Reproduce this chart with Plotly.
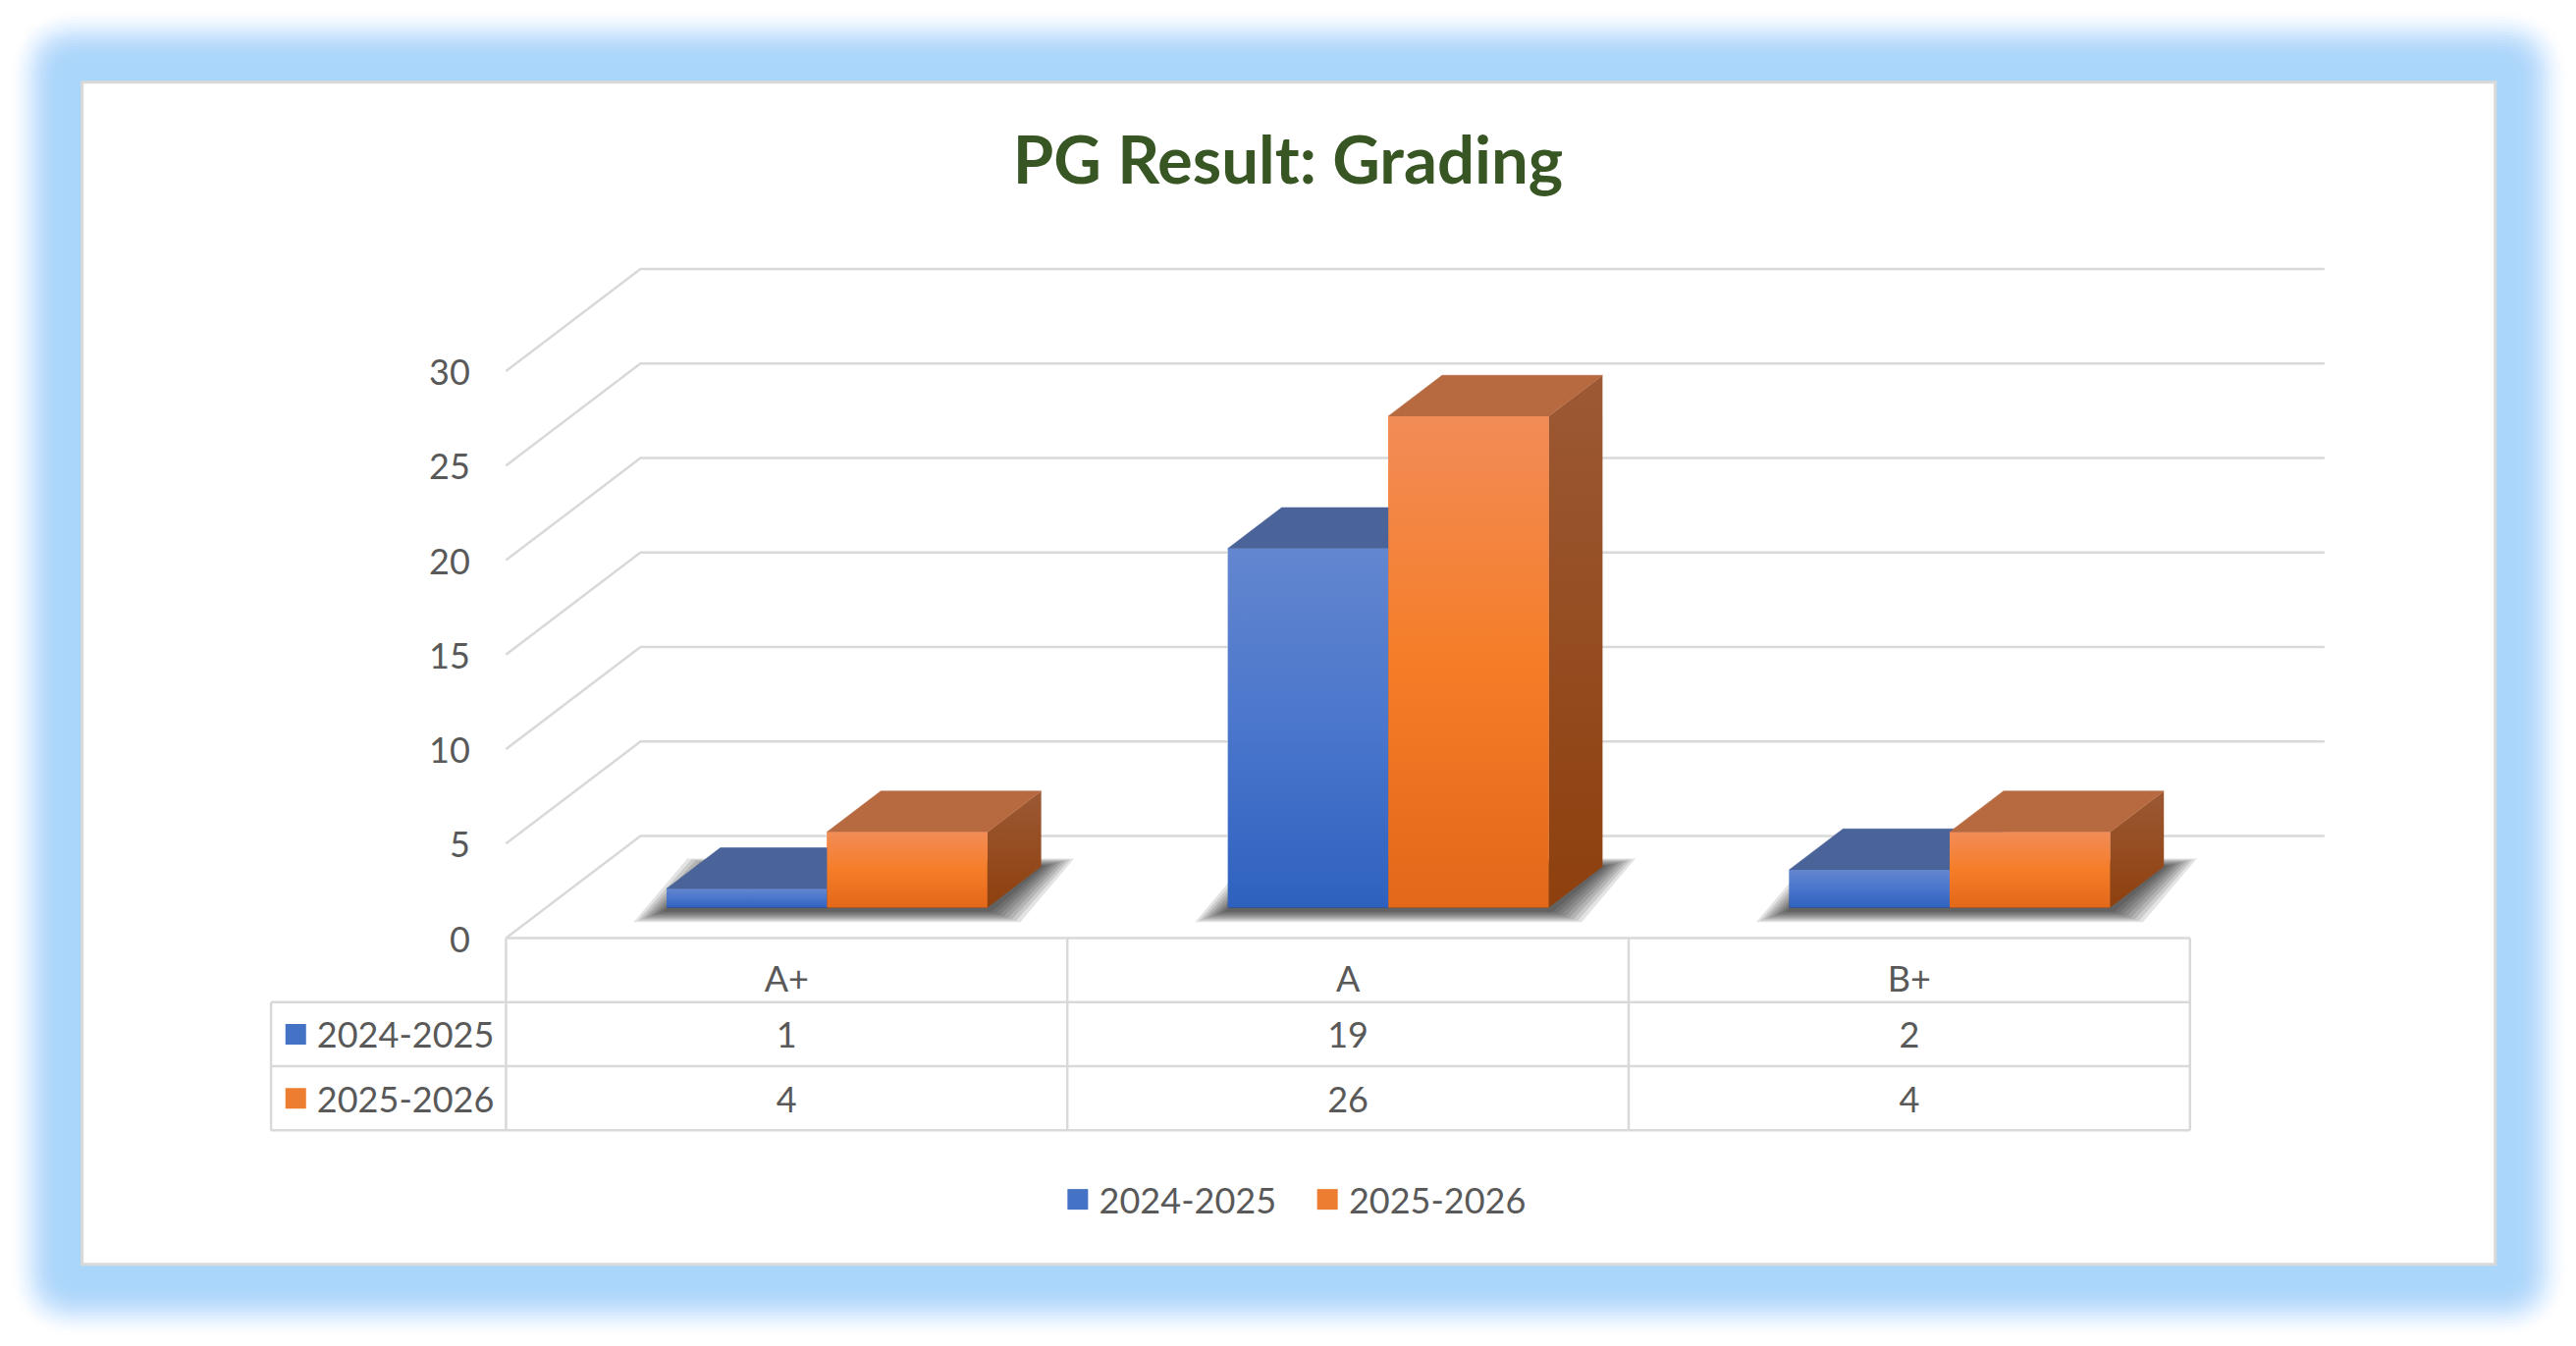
import math
import plotly.graph_objects as go

# ---------------- data ----------------
categories = ["A+", "A", "B+"]
series_names = ["2024-2025", "2025-2026"]
values_2024_2025 = [1, 19, 2]
values_2025_2026 = [4, 26, 4]
y_ticks = [0, 5, 10, 15, 20, 25, 30]

series_values = [values_2024_2025, values_2025_2026]

# ---------------- geometry ----------------
# page pixels of the reference; the figure itself starts at (8, 8) on the page
PAGE_OFF = 8
W_PX, H_PX = 2624 - 2 * PAGE_OFF, 1371 - 2 * PAGE_OFF
X0_PX = 515.4 - PAGE_OFF   # pixel x of category edge -0.5 on the front plane
X_UNIT = 571.8             # px per category
Y0_PX = 955.6 - PAGE_OFF   # pixel y (from top) of value 0 on the front plane
Y_UNIT = 19.25             # px per value unit

x_min = -0.5 - X0_PX / X_UNIT
x_max = x_min + W_PX / X_UNIT
y_max = Y0_PX / Y_UNIT
y_min = (Y0_PX - H_PX) / Y_UNIT

DX = 137 / X_UNIT      # full depth shift, x units
DY = 104 / Y_UNIT      # full depth shift, value units
F0, F1 = 0.30, 0.70    # depth of bar front / back
BAR_W = 163.4 / X_UNIT
ROW_H = 3.39
TABLE_LEFT = -0.9185
TXT_DY = -0.26         # small downward nudge of text labels
N = len(categories)

TEXT_COLOR = "#595959"
GRID_COLOR = "#d9d9d9"
FONT = "Lato, Carlito, Calibri, sans-serif"
FS = 36

styles = [
    dict(solid="#4472c4",
         front=[[0, "#2e61bf"], [0.5, "#4a76cc"], [1, "#6386cf"]],
         top="#4a6399",
         side=[[0, "#2a4f99"], [1, "#3d5c9e"]]),
    dict(solid="#ed7d31",
         front=[[0, "#e3681a"], [0.5, "#f57d28"], [1, "#f28c57"]],
         top="#b76a40",
         side=[[0, "#8e400e"], [1, "#9c5934"]]),
]


def proj(x, y, d):
    return x + d * DX, y + d * DY


def poly(points):
    xs, ys = [], []
    for (x, y, d) in points:
        px, py = proj(x, y, d)
        xs.append(px)
        ys.append(py)
    xs.append(xs[0])
    ys.append(ys[0])
    return xs, ys


fig = go.Figure()

# ---------------- back wall / floor gridlines ----------------
gx, gy = [], []
for v in y_ticks:
    a = proj(-0.5, v, 0)
    b = proj(-0.5, v, 1)
    c = proj(N - 0.5, v, 1)
    gx += [a[0], b[0], c[0], None]
    gy += [a[1], b[1], c[1], None]
fig.add_trace(go.Scatter(x=gx, y=gy, mode="lines",
                         line=dict(color=GRID_COLOR, width=2.5),
                         hoverinfo="skip", showlegend=False))

# ---------------- soft floor shadows ----------------
for k in range(8, 0, -1):
    e = 4.2 * k
    ex = e / X_UNIT
    ey_f = 0.35 * e / Y_UNIT
    ey_b = 0.25 * e / Y_UNIT
    sh = 3.0 / Y_UNIT
    sx, sy = [], []
    for i in range(N):
        xl = i - BAR_W
        xr = i + BAR_W
        fl = proj(xl, 0, F0)
        fr = proj(xr, 0, F0)
        br = proj(xr, 0, F1)
        bl = proj(xl, 0, F1)
        pts = [(fl[0] - ex, fl[1] - ey_f - sh),
               (fr[0] + ex, fr[1] - ey_f - sh),
               (br[0] + ex, br[1] + ey_b),
               (bl[0] - ex, bl[1] + ey_b)]
        sx += [p[0] for p in pts] + [pts[0][0], None]
        sy += [p[1] for p in pts] + [pts[0][1], None]
    fig.add_trace(go.Scatter(x=sx, y=sy, mode="lines", fill="toself",
                             fillcolor="rgba(0,0,0,0.11)",
                             line=dict(width=0), hoverinfo="skip",
                             showlegend=False))

# ---------------- bars (front faces as real bar traces) ----------------
for s, name in enumerate(series_names):
    fig.add_trace(go.Bar(
        x=[i + F0 * DX for i in range(N)],
        y=series_values[s],
        base=F0 * DY,
        width=BAR_W,
        offset=-BAR_W if s == 0 else 0,
        marker=dict(color=styles[s]["solid"], line=dict(width=0)),
        name=name,
        customdata=categories,
        hovertemplate="%{customdata}: %{y}<extra>" + name + "</extra>",
        showlegend=False,
    ))

# ---------------- 3D faces ----------------
for i in range(N):
    for s in range(len(series_names)):
        v = series_values[s][i]
        st = styles[s]
        xl = i - BAR_W + s * BAR_W
        xr = xl + BAR_W
        # right side
        xs, ys = poly([(xr, 0, F0), (xr, 0, F1), (xr, v, F1), (xr, v, F0)])
        fig.add_trace(go.Scatter(x=xs, y=ys, mode="lines", fill="toself",
                                 fillgradient=dict(type="vertical", colorscale=st["side"]),
                                 line=dict(width=0), hoverinfo="skip", showlegend=False))
        # top
        xs, ys = poly([(xl, v, F0), (xr, v, F0), (xr, v, F1), (xl, v, F1)])
        fig.add_trace(go.Scatter(x=xs, y=ys, mode="lines", fill="toself",
                                 fillcolor=st["top"],
                                 line=dict(width=0.6, color=st["top"]),
                                 hoverinfo="skip", showlegend=False))
        # front
        xs, ys = poly([(xl, 0, F0), (xr, 0, F0), (xr, v, F0), (xl, v, F0)])
        fig.add_trace(go.Scatter(x=xs, y=ys, mode="lines", fill="toself",
                                 fillgradient=dict(type="vertical", colorscale=st["front"]),
                                 line=dict(width=0), hoverinfo="skip", showlegend=False))

# ---------------- data table lines ----------------
tx, ty = [], []
tx += [-0.5, N - 0.5, None]
ty += [0, 0, None]
for r in range(1, 4):
    tx += [TABLE_LEFT, N - 0.5, None]
    ty += [-r * ROW_H, -r * ROW_H, None]
tx += [TABLE_LEFT, TABLE_LEFT, None]
ty += [-ROW_H, -3 * ROW_H, None]
for j in range(N + 1):
    tx += [j - 0.5, j - 0.5, None]
    ty += [0, -3 * ROW_H, None]
fig.add_trace(go.Scatter(x=tx, y=ty, mode="lines",
                         line=dict(color=GRID_COLOR, width=2.5),
                         hoverinfo="skip", showlegend=False))

# ---------------- text: y tick labels ----------------
fig.add_trace(go.Scatter(
    x=[-0.5 - 0.064] * len(y_ticks), y=[t + TXT_DY for t in y_ticks],
    text=[str(t) for t in y_ticks], mode="text", textposition="middle left",
    textfont=dict(family=FONT, size=FS, color=TEXT_COLOR),
    hoverinfo="skip", showlegend=False))

# header categories
fig.add_trace(go.Scatter(
    x=list(range(N)), y=[-0.5 * ROW_H - 0.42 + TXT_DY] * N, text=categories, mode="text",
    textposition="middle center",
    textfont=dict(family=FONT, size=FS, color=TEXT_COLOR),
    hoverinfo="skip", showlegend=False))

# values rows + row labels
for s, name in enumerate(series_names):
    yrow = -(1.5 + s) * ROW_H
    fig.add_trace(go.Scatter(
        x=list(range(N)), y=[yrow + TXT_DY] * N,
        text=[str(v) for v in series_values[s]], mode="text",
        textposition="middle center",
        textfont=dict(family=FONT, size=FS, color=TEXT_COLOR),
        hoverinfo="skip", showlegend=False))
    fig.add_trace(go.Scatter(
        x=[-0.8745], y=[yrow], mode="markers",
        marker=dict(symbol="square", size=21, color=styles[s]["solid"],
                    line=dict(width=0)),
        hoverinfo="skip", showlegend=False))
    fig.add_trace(go.Scatter(
        x=[-0.8367], y=[yrow + TXT_DY], text=[name], mode="text",
        textposition="middle right",
        textfont=dict(family=FONT, size=FS, color=TEXT_COLOR),
        hoverinfo="skip", showlegend=False))

# ---------------- legend (bottom) ----------------
LEG_Y = -13.82
leg_marker_x = [0.5186, 0.9634]
leg_text_x = [0.5567, 1.0014]
for s, name in enumerate(series_names):
    fig.add_trace(go.Scatter(
        x=[leg_marker_x[s]], y=[LEG_Y], mode="markers",
        marker=dict(symbol="square", size=21, color=styles[s]["solid"],
                    line=dict(width=0)),
        hoverinfo="skip", showlegend=False))
    fig.add_trace(go.Scatter(
        x=[leg_text_x[s]], y=[LEG_Y + TXT_DY], text=[name], mode="text",
        textposition="middle right",
        textfont=dict(family=FONT, size=FS, color=TEXT_COLOR),
        hoverinfo="skip", showlegend=False))

# ---------------- frame: glow + white panel ----------------
PX0, PX1 = 83.7 - PAGE_OFF, 2541.7 - PAGE_OFF
PY0, PY1 = 83.7 - PAGE_OFF, 1287.7 - PAGE_OFF


def rounded_rect_path(x0, y0, x1, y1, r):
    def fx(p):
        return p / W_PX

    def fy(p):
        return 1 - p / H_PX
    return (f"M {fx(x0 + r)},{fy(y0)} L {fx(x1 - r)},{fy(y0)} "
            f"Q {fx(x1)},{fy(y0)} {fx(x1)},{fy(y0 + r)} "
            f"L {fx(x1)},{fy(y1 - r)} Q {fx(x1)},{fy(y1)} {fx(x1 - r)},{fy(y1)} "
            f"L {fx(x0 + r)},{fy(y1)} Q {fx(x0)},{fy(y1)} {fx(x0)},{fy(y1 - r)} "
            f"L {fx(x0)},{fy(y0 + r)} Q {fx(x0)},{fy(y0)} {fx(x0 + r)},{fy(y0)} Z")


GLOW_SOLID, GLOW_END = 22.0, 76.0


def glow_target(d):
    if d <= GLOW_SOLID:
        return 1.0
    if d >= GLOW_END:
        return 0.0
    return 0.5 * (1 + math.cos(math.pi * (d - GLOW_SOLID) / (GLOW_END - GLOW_SOLID)))


shapes = []
offsets = [GLOW_END - 3 * k for k in range(0, 18)]
prev = 0.0
for o in offsets:
    target = min(glow_target(o - 1.5), 0.97)
    a = 1 - (1 - target) / (1 - prev) if prev < 1 else 0
    a = max(0.0, min(1.0, a))
    prev = target
    shapes.append(dict(type="path", xref="paper", yref="paper", layer="below",
                       path=rounded_rect_path(PX0 - o, PY0 - o, PX1 + o, PY1 + o, o * 0.95),
                       fillcolor=f"rgba(171,214,251,{a:.3f})", line=dict(width=0)))
shapes.append(dict(type="path", xref="paper", yref="paper", layer="below",
                   path=rounded_rect_path(PX0 - GLOW_SOLID, PY0 - GLOW_SOLID,
                                          PX1 + GLOW_SOLID, PY1 + GLOW_SOLID, 18),
                   fillcolor="rgb(171,214,251)", line=dict(width=0)))
shapes.append(dict(type="rect", xref="paper", yref="paper", layer="below",
                   x0=PX0 / W_PX, x1=PX1 / W_PX,
                   y0=1 - PY1 / H_PX, y1=1 - PY0 / H_PX,
                   fillcolor="white", line=dict(color="#d9d9d9", width=3)))

fig.update_layout(
    width=W_PX, height=H_PX,
    margin=dict(l=0, r=0, t=0, b=0),
    paper_bgcolor="white",
    plot_bgcolor="rgba(0,0,0,0)",
    barmode="overlay",
    showlegend=False,
    shapes=shapes,
    title=dict(text="PG Result: Grading", x=0.5, xanchor="center",
               y=1 - (164 - PAGE_OFF) / H_PX, yanchor="middle", yref="paper",
               font=dict(family=FONT, size=67, color="#375623", weight=700)),
    xaxis=dict(range=[x_min, x_max], domain=[0, 1], visible=False, fixedrange=True),
    yaxis=dict(range=[y_min, y_max], domain=[0, 1], visible=False, fixedrange=True),
    hovermode="closest",
)

fig.write_html("out.html")
